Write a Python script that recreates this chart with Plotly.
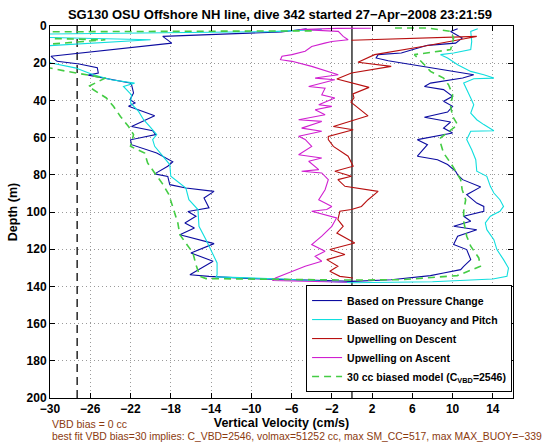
import plotly.graph_objects as go

# ---------------- data (velocity cm/s, depth m) ----------------
pressure_change = [
    (-4.5, 1.5), (-5.5, 2.2), (-7.0, 3.2), (-18.8, 5.6), (-17.9, 9.2), (-29.9, 16.3),
    (-29.3, 19.0), (-27.1, 20.4), (-25.3, 22.4), (-25.2, 25.3), (-26.2, 26.4),
    (-22.05, 30.6), (-21.9, 31.5), (-21.7, 36.0), (-22.05, 39.6), (-21.55, 41.4),
    (-22.2, 43.2), (-19.6, 48.3), (-21.9, 54.0), (-19.8, 56.3), (-19.5, 58.4),
    (-22.0, 61.2), (-21.9, 63.8), (-19.4, 68.3), (-17.8, 73.0), (-18.3, 75.4),
    (-19.6, 79.5), (-18.3, 80.9), (-18.1, 85.3), (-16.5, 87.1), (-13.7, 88.9),
    (-14.7, 92.5), (-14.2, 97.8), (-16.3, 99.7), (-15.5, 102.3), (-16.6, 105.9),
    (-15.65, 108.6), (-17.1, 112.2), (-13.7, 117.0), (-16.0, 122.0), (-13.8, 126.5),
    (-16.1, 133.7), (-14.2, 134.6), (-10.0, 135.8), (-5.0, 136.6), (0.0, 137.3),
    (3.9, 136.4), (7.8, 134.2), (9.1, 132.8), (10.8, 131.0), (11.1, 129.2),
    (11.8, 125.6), (11.4, 120.2), (10.1, 117.5), (10.5, 113.0), (12.4, 109.5),
    (10.1, 107.7), (11.8, 105.0), (11.1, 102.3), (13.1, 99.6), (13.1, 97.0),
    (12.4, 95.2), (11.4, 90.7), (12.8, 86.5), (11.0, 82.6), (10.5, 80.0),
    (10.3, 78.1), (9.5, 74.5), (8.5, 71.9), (6.5, 70.0), (7.5, 63.8), (6.5, 61.1),
    (10.0, 57.5), (9.1, 54.9), (9.8, 51.6), (7.2, 49.1), (9.5, 46.3), (10.0, 43.2),
    (9.1, 40.5), (10.0, 37.8), (9.1, 34.2), (7.2, 32.5), (7.8, 30.7), (11.0, 28.0),
    (12.1, 26.2), (10.0, 24.4), (7.2, 21.7), (3.6, 18.7), (2.4, 17.2), (2.6, 15.4),
    (4.9, 14.5), (6.5, 11.8), (7.5, 10.4), (10.3, 9.2), (10.95, 6.5), (9.8, 3.0),
    (10.5, 1.5),
]

buoyancy_pitch = [
    (-3.0, 1.8), (-8.0, 3.0), (-34.0, 4.5), (-33.0, 5.8), (-20.0, 7.4), (-33.0, 11.5),
    (-34.0, 15.0), (-30.5, 18.5), (-29.9, 19.9), (-27.5, 22.5), (-25.7, 26.2),
    (-23.9, 28.9), (-21.6, 30.7), (-22.7, 32.5), (-21.9, 37.0), (-22.0, 41.4),
    (-21.2, 45.9), (-20.7, 50.4), (-20.1, 54.0), (-19.4, 58.4), (-19.8, 61.1),
    (-19.6, 64.7), (-18.1, 74.5), (-18.0, 80.8), (-16.5, 87.1), (-16.2, 93.4),
    (-15.3, 98.7), (-15.2, 107.7), (-14.5, 114.9), (-13.4, 127.4), (-13.4, 133.7),
    (-13.5, 134.9), (-7.0, 136.0), (0.0, 138.0), (8.0, 137.5), (14.0, 136.0),
    (15.4, 134.6), (15.55, 130.1), (15.06, 125.6), (14.4, 120.2), (14.1, 114.9),
    (13.4, 109.5), (13.25, 105.9), (13.75, 102.3), (14.7, 99.6), (15.06, 97.0),
    (14.7, 93.4), (14.1, 89.8), (13.75, 86.2), (13.4, 80.8), (12.4, 78.1),
    (12.3, 71.9), (11.9, 66.5), (11.4, 61.0), (11.8, 56.6), (14.1, 56.3), (13.1, 53.0),
    (12.4, 50.4), (11.8, 46.8), (12.1, 42.3), (11.8, 38.7), (11.4, 34.2), (11.1, 30.7),
    (12.1, 28.4), (14.1, 28.0), (13.1, 26.2), (11.8, 24.4), (10.5, 20.8), (9.5, 17.2),
    (8.8, 15.4), (10.1, 14.5), (11.8, 12.7), (11.9, 8.3), (11.8, 2.9), (12.5, 1.5),
]

upwelling_descent = [
    (-0.05, 7.7), (12.4, 5.6), (7.0, 11.0), (2.25, 15.4), (0.6, 19.5), (3.9, 21.7),
    (-0.05, 25.3), (-1.5, 28.5), (1.7, 33.0), (0.1, 36.5), (0.2, 38.7), (-0.1, 41.0),
    (1.6, 48.3), (-1.85, 54.0), (0.12, 55.8), (-2.35, 59.4), (-2.35, 61.0),
    (-1.85, 64.7), (-0.38, 70.0), (0.12, 75.4), (-1.7, 78.1), (-0.05, 80.8),
    (-1.4, 82.6), (-0.7, 86.2), (2.6, 88.9), (1.6, 93.4), (0.94, 97.0), (-0.05, 98.7),
    (-1.2, 99.6), (-1.4, 104.1), (-0.87, 107.7), (-1.5, 111.3), (0.28, 116.7),
    (-2.2, 120.2), (-0.7, 122.9), (-2.5, 125.6), (-1.4, 129.2), (-2.2, 131.9),
    (-1.2, 134.6), (0.1, 135.5),
]

upwelling_ascent = [
    (-0.5, 137.8), (-7.9, 136.8), (-7.6, 135.5), (-6.3, 132.8), (-4.65, 129.2),
    (-3.0, 126.5), (-3.66, 123.8), (-2.67, 121.1), (-4.0, 117.5), (-3.0, 113.0),
    (-2.0, 107.7), (-1.53, 103.2), (-4.0, 99.6), (-2.5, 98.7), (-2.0, 97.0),
    (-3.3, 93.4), (-2.67, 88.0), (-2.35, 82.6), (-3.0, 79.0), (-5.0, 78.1),
    (-3.3, 77.2), (-4.3, 72.7), (-3.0, 71.0), (-5.3, 69.2), (-4.0, 64.7), (-4.65, 61.0),
    (-5.3, 59.3), (-3.0, 56.6), (-5.0, 54.9), (-3.0, 51.3), (-5.3, 50.4), (-2.67, 47.7),
    (-3.66, 45.0), (-2.0, 43.2), (-3.3, 42.3), (-1.7, 38.7), (-3.0, 37.0),
    (-2.67, 33.4), (-4.3, 32.5), (-1.7, 28.9), (-3.66, 28.0), (-1.36, 26.2),
    (-2.35, 24.4), (-4.0, 21.7), (-5.96, 19.0), (-7.1, 18.1), (-6.95, 16.3),
    (-5.96, 15.4), (-4.65, 13.6), (-4.0, 11.0), (-2.7, 9.2), (-2.0, 8.3),
    (-0.38, 7.4), (-0.87, 5.6), (-1.36, 2.9), (-5.2, 1.9), (-1.5, 1.3), (1.9, 1.2),
]

biased_model = [
    (-4.0, 2.6), (-34.0, 3.2), (-32.0, 6.5), (-24.5, 7.4), (-31.5, 10.4), (-33.0, 15.0),
    (-31.0, 21.5), (-28.3, 24.4), (-24.5, 28.0), (-26.2, 32.5), (-24.4, 38.7),
    (-23.7, 43.2), (-23.0, 48.6), (-22.2, 54.0), (-21.7, 58.4), (-22.0, 64.7),
    (-20.6, 68.3), (-20.3, 73.6), (-19.6, 79.0), (-18.8, 85.0), (-18.2, 90.5),
    (-17.7, 98.7), (-17.3, 105.9), (-17.1, 112.2), (-16.5, 116.7), (-15.8, 122.0),
    (-15.5, 128.3), (-15.1, 134.6), (-14.5, 135.8), (-8.0, 136.2), (0.0, 136.6),
    (5.0, 136.4), (10.46, 134.2), (12.76, 129.2), (12.6, 124.7), (11.8, 118.4),
    (11.4, 113.0), (11.1, 105.0), (11.1, 99.6), (11.3, 93.4), (10.95, 88.0),
    (10.8, 82.6), (10.3, 78.1), (9.8, 73.6), (9.1, 68.3), (8.8, 62.9), (8.8, 60.2),
    (10.5, 53.1), (10.0, 48.6), (9.8, 43.2), (10.0, 37.0), (9.6, 31.6), (9.1, 28.0),
    (7.8, 24.4), (7.2, 20.8), (6.5, 17.2), (6.2, 15.4), (9.8, 12.7), (10.1, 6.5),
    (9.8, 2.9), (7.5, 1.1), (3.9, 1.1),
]

reference_lines = {"limit": -27.3, "zero": 0.0}   # vertical reference velocities
x_ticks = list(range(-30, 15, 4))
y_ticks = list(range(0, 201, 20))

title_text = "SG130 OSU Offshore NH line, dive 342 started 27\u2212Apr\u22122008 23:21:59"
note_1 = "VBD bias = 0 cc"
note_2 = ("best fit VBD bias=30 implies: C_VBD=2546, volmax=51252 cc, "
          "max SM_CC=517, max MAX_BUOY=\u2212339")

# ---------------- figure ----------------
FONT = "Liberation Sans, Arial, Helvetica, sans-serif"
series = [
    ("Based on Pressure Change", pressure_change, "#0c0ca0", "solid", 1.1),
    ("Based on Buoyancy and Pitch", buoyancy_pitch, "#10dede", "solid", 1.1),
    ("Upwelling on Descent", upwelling_descent, "#b81010", "solid", 1.1),
    ("Upwelling on Ascent", upwelling_ascent, "#d020d0", "solid", 1.1),
    ("30 cc biased model (C<sub>VBD</sub>=2546)", biased_model, "#44cc44", "7px,5px", 1.6),
]

fig = go.Figure()
for name, pts, color, dash, w in series:
    fig.add_trace(go.Scatter(
        x=[p[0] for p in pts], y=[p[1] for p in pts], mode="lines", name=name,
        line=dict(color=color, width=w, dash=dash)))

fig.add_shape(type="line", xref="x", yref="y", x0=reference_lines["limit"],
              x1=reference_lines["limit"], y0=0, y1=200, layer="below",
              line=dict(color="#333333", width=1.6, dash="8px,5px"))
fig.add_shape(type="line", xref="x", yref="y", x0=reference_lines["zero"],
              x1=reference_lines["zero"], y0=0, y1=200, layer="below",
              line=dict(color="#111111", width=1.3))

axis_common = dict(
    showline=True, linecolor="black", linewidth=1, mirror="ticks",
    ticks="inside", ticklen=5, tickcolor="black", tickwidth=1,
    showgrid=True, gridcolor="#9a9a9a", griddash="1px,3px", gridwidth=1,
    zeroline=False, tickfont=dict(family=FONT, size=12, color="black", weight="bold"),
)

fig.update_xaxes(range=[-30, 16], tickvals=x_ticks, **axis_common,
                 title=dict(text="<b>Vertical Velocity (cm/s)</b>", standoff=1,
                            font=dict(family=FONT, size=12.5, color="black")))
fig.update_yaxes(range=[200, 0], tickvals=y_ticks, **axis_common,
                 title=dict(text="<b>Depth (m)</b>", standoff=6,
                            font=dict(family=FONT, size=12.5, color="black")))

fig.add_annotation(text=note_1, xref="paper", yref="paper", x=0.0, y=-0.07,
                   xanchor="left", yanchor="middle", showarrow=False,
                   font=dict(family=FONT, size=10.5, color="#8b3a0f"))
fig.add_annotation(text=note_2, xref="paper", yref="paper", x=0.0, y=-0.103,
                   xanchor="left", yanchor="middle", showarrow=False,
                   font=dict(family=FONT, size=10.4, color="#8b3a0f"))

fig.update_layout(
    width=560, height=442,
    margin=dict(l=46, r=47, t=26, b=44),
    paper_bgcolor="white", plot_bgcolor="white",
    title=dict(text="<b>" + title_text + "</b>", x=0.5, xanchor="center",
               y=0.968, yanchor="middle",
               font=dict(family=FONT, size=13, color="black")),
    legend=dict(x=0.998, y=0.016, xanchor="right", yanchor="bottom",
                bgcolor="white", bordercolor="black", borderwidth=1,
                font=dict(family=FONT, size=10.5, color="black", weight="bold"),
                tracegroupgap=0),
    showlegend=True,
)

fig.write_html("out.html", config={"displayModeBar": False},
               post_script="document.body.style.margin='0';document.body.style.overflow='hidden';")
